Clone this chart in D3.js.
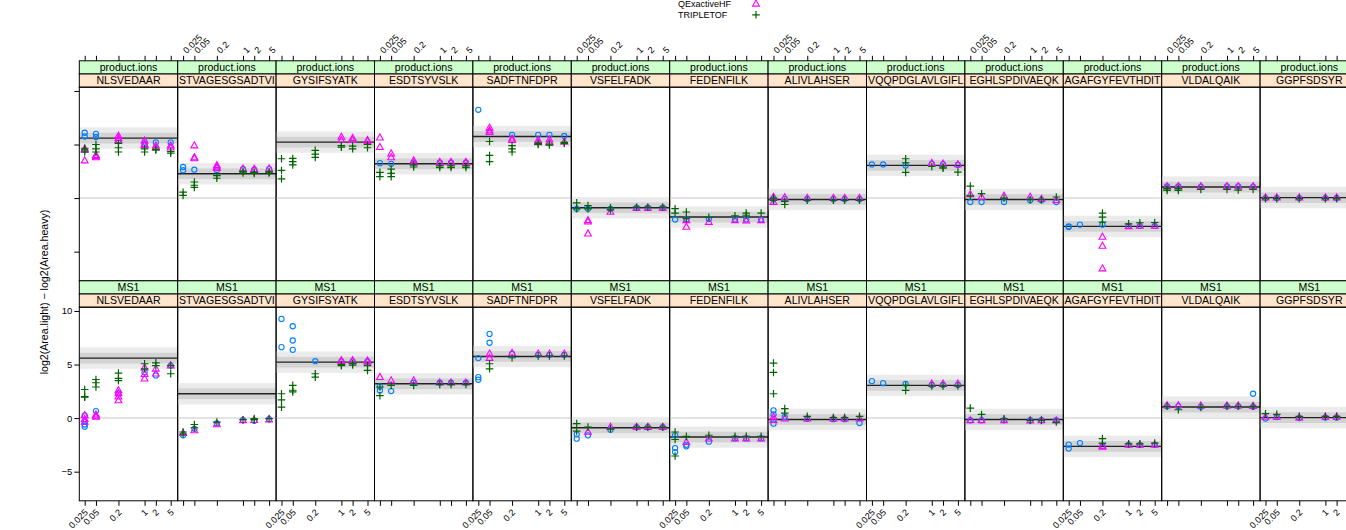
<!DOCTYPE html>
<html>
<head>
<meta charset="utf-8">
<script src="https://cdn.jsdelivr.net/npm/d3@7"></script>
<style>
body { margin: 0; background: #fff; overflow: hidden; }
text { font-family: "Liberation Sans", Arial, sans-serif; fill: #000; }
</style>
</head>
<body>
<script>
var conc = [0.025, 0.05, 0.2, 1, 2, 5];
var tickLabels = ["0.025", "0.05", "0.2", "1", "2", "5"];
var yTicks = [-5, 0, 5, 10];
var methods = ["product.ions", "MS1"];
var instruments = ["QExactive", "QExactiveHF", "TRIPLETOF"];
var peptides = ["NLSVEDAAR", "STVAGESGSADTVI", "GYSIFSYATK", "ESDTSYVSLK", "SADFTNFDPR",
  "VSFELFADK", "FEDENFILK", "ALIVLAHSER", "VQQPDGLAVLGIFL", "EGHLSPDIVAEQK",
  "AGAFGYFEVTHDIT", "VLDALQAIK", "GGPFSDSYR"];
// consensus (median) per peptide
var consensus = [5.6, 2.27, 5.22, 3.2, 5.75, -0.9, -1.77, -0.13, 3.05, -0.13, -2.64, 1.03, 0.04];

// product.ions, one entry per peptide, each 6 concentrations of replicate values
var pionQE = [
  [[6.1,5.75],[6.0,5.7],[5.4],[5.2,5.0],[5.2],[5.2]],
  [[2.9,2.6],[2.65],[2.6],[2.7],[2.65],[2.7]],
  [[],[],[],[],[],[]],
  [[3.26],[3.2],[3.3],[3.3],[3.3],[3.3]],
  [[8.24],[],[5.9],[5.9],[5.9],[5.8]],
  [[-1.0],[-1.0],[-1.0],[-0.9],[-0.9],[-0.9]],
  [[-2.0],[-2.0],[-1.95],[-2.0],[-2.0],[-2.0]],
  [[-0.1],[-0.1],[-0.1],[-0.1],[-0.1],[-0.1]],
  [[3.14],[3.14],[3.05],[3.2],[3.15],[3.1]],
  [[-0.37],[-0.37],[-0.37],[-0.2],[-0.2],[-0.37]],
  [[-2.64,-2.7],[-2.48],[-2.48],[-2.6],[-2.6],[-2.6]],
  [[1.1],[1.1],[1.05],[1.1],[1.1],[1.05]],
  [[0.0],[0.0],[0.0],[0.0],[0.0],[0.0]]
];
var pionHF = [
  [[4.6,3.5,4.5],[4.0,3.8,3.9],[5.8,5.4,5.6],[5.35,5.0,4.95],[4.9,4.7],[4.9,4.7]],
  [[],[4.9,3.8,3.7],[3.05,2.8,2.9],[2.75],[2.7,2.65],[2.75]],
  [[],[],[],[5.7,5.4],[5.6,5.4],[5.4,5.3]],
  [[5.63,4.75],[4.15,3.8],[3.5,3.3],[3.35,3.3],[3.35,3.3],[3.35,3.3]],
  [[],[6.56,6.15,6.3],[5.55,5.4],[5.4,5.2],[5.45,5.2],[5.25]],
  [[],[-2.08,-3.32,-2.2],[-1.3],[-0.95],[-0.95],[-0.95]],
  [[],[-2.08,-2.7],[-2.24],[-2.08],[-2.1],[-2.08]],
  [[0.1,-0.37],[0.05],[0.0],[0.0],[0.0],[0.0]],
  [[],[],[],[3.26],[3.2],[3.14]],
  [[0.35],[0.1],[0.2],[0.1],[-0.1],[-0.2]],
  [[],[],[-3.63,-4.47,-6.58],[-2.64],[-2.6],[-2.6]],
  [[1.09],[1.09],[1.09],[1.09],[1.09],[1.09]],
  [[0.04],[0.04],[0.04],[0.04],[0.04],[0.04]]
];
var pionTT = [
  [[4.65,4.3,4.5],[5.0,4.6,4.3],[5.1,4.7,4.3],[4.6,4.3],[4.55,4.5],[4.35,4.2]],
  [[0.55,0.25],[1.5,1.0,1.2],[2.1,1.85],[2.5,2.35],[2.4,2.3],[2.45,2.35]],
  [[3.67,2.58,1.8],[3.7,3.4,3.1],[4.45,4.1,3.8],[4.9,4.75],[4.85,4.6],[5.0,4.7]],
  [[2.4,2.0],[2.7,2.0,2.3],[3.1,2.9],[3.0,2.85],[3.0,2.85],[3.0,2.85]],
  [[],[5.28,3.98,3.4],[4.9,4.6,4.3],[5.1,5.0],[5.05,4.95],[5.2,5.1]],
  [[-0.45,-1.0],[-0.7,-1.0],[-0.9,-1.1],[-0.85],[-0.85],[-0.85]],
  [[-0.99,-1.4],[-1.3,-1.9],[-1.8],[-1.65],[-1.4,-1.6],[-1.4]],
  [[0.0,-0.2],[-0.3,-0.6],[-0.2],[-0.2],[-0.2],[-0.2]],
  [[],[],[3.67,3.3,2.4],[2.95],[2.8,2.9],[2.42]],
  [[1.12,0.2],[0.41],[0.0],[-0.15],[-0.15],[0.1]],
  [[],[],[-1.4,-1.77,-2.24],[-2.4],[-2.3],[-2.28]],
  [[0.88,0.72],[0.88,0.72],[0.8],[0.8],[0.75],[0.8]],
  [[-0.05],[-0.05],[-0.05],[-0.05],[-0.05],[-0.05]]
];

// MS1
var ms1QE = [
  [[0.25,-0.3,-0.6,-0.8],[0.65],[2.3],[4.29],[3.98],[4.9]],
  [[-1.61],[-1.0],[-0.5],[-0.2],[-0.25],[-0.1]],
  [[9.26,6.62],[8.57,7.24,6.37],[5.31],[5.3],[5.3],[5.3]],
  [[2.95,2.58],[2.52],[3.3],[3.3],[3.3],[3.3]],
  [[5.6,3.82,3.58],[7.86,7.03],[6.0],[5.9],[5.9],[5.9]],
  [[-1.52,-1.92],[-1.61],[-1.1],[-0.85],[-0.85],[-0.85]],
  [[-1.61,-2.8,-3.17],[-2.64,-2.5],[-2.2],[-1.9],[-1.9],[-1.9]],
  [[0.72,0.35,-0.52],[0.1],[-0.06],[-0.1],[-0.1],[-0.46]],
  [[3.45],[3.26],[3.2],[3.1],[3.1],[3.1]],
  [[-0.2],[-0.2],[-0.2],[-0.2],[-0.2],[-0.2]],
  [[-2.48,-2.85],[-2.33],[-2.6],[-2.5],[-2.5],[-2.5]],
  [[1.1],[1.1],[1.05],[1.1],[1.1],[2.27,1.05]],
  [[-0.05],[0.1],[0.0],[0.05],[0.05],[0.05]]
];
var ms1HF = [
  [[0.25,-0.1,-0.35],[0.32,0.1,0.2],[2.58,2.3,2.0,1.65],[4.7,4.1,3.67],[4.6,4.14],[4.9]],
  [[-1.4],[-1.15],[-0.59],[-0.21],[-0.2],[-0.15]],
  [[],[],[],[5.38,5.3],[5.38,5.3],[5.35,5.25]],
  [[3.82],[3.5],[3.5],[3.3],[3.3],[3.3]],
  [[],[6.0,5.6],[6.06],[6.0],[6.0],[6.0]],
  [[],[-1.3],[-0.84],[-0.84],[-0.84],[-0.84]],
  [[],[-2.24],[-1.92],[-1.92],[-1.92],[-1.92]],
  [[0.1,-0.2],[-0.06],[-0.06],[-0.06],[-0.06],[-0.06]],
  [[],[],[],[3.2],[3.2],[3.2]],
  [[-0.21],[-0.21],[-0.21],[-0.25],[-0.21],[-0.25]],
  [[],[],[-2.6,-2.7],[-2.5],[-2.5],[-2.5]],
  [[1.18],[1.18],[1.15],[1.15],[1.15],[1.12]],
  [[0.1],[0.1],[0.05],[0.1],[0.1],[0.1]]
];
var ms1TT = [
  [[2.67,1.96,2.0],[3.6,3.3,2.9],[4.2,3.7,3.5],[5.07,4.6],[5.16,4.9],[4.9,4.14]],
  [[-1.3,-1.5],[-0.6,-0.9],[-0.37],[-0.15],[-0.05,-0.15],[-0.05]],
  [[2.27,1.7,1.02],[3.05,2.6,2.45],[4.14,3.82],[4.9,5.0],[4.95,5.1],[4.9,4.45]],
  [[2.9,2.1],[3.05],[3.05],[3.15],[3.15],[3.15]],
  [[],[5.07,4.6],[5.63],[5.8],[5.8],[5.8]],
  [[-0.52,-1.21],[-0.84],[-1.0],[-0.84],[-0.84],[-0.84]],
  [[-1.3,-2.0,-3.54],[-1.71],[-1.6],[-1.71],[-1.71],[-1.71]],
  [[5.13,4.26,2.27],[0.88,0.47],[0.16],[0.05],[0.05],[0.16]],
  [[],[],[3.05,2.58],[3.0],[3.0],[3.0]],
  [[0.93],[0.34],[-0.06],[-0.21],[-0.21],[-0.37]],
  [[],[],[-1.92,-2.33],[-2.4],[-2.4],[-2.33]],
  [[1.1],[0.78],[1.0],[1.1],[1.1],[1.1]],
  [[0.41],[0.35],[0.16],[0.16],[0.16],[0.16]]
];

var series = [[pionQE, pionHF, pionTT], [ms1QE, ms1HF, ms1TT]];
var colors = ["#0080ff", "#ff00ff", "#006400"];

var width = 1346, height = 530;
var plotLeft = 79.3, colW = 98.4, plotTop = 60.8, stripH = 13.2, panelH = 193.6;
var rowH = 2 * stripH + panelH;

var svg = d3.select("body").append("svg")
    .attr("width", width)
    .attr("height", height);

svg.append("defs").append("clipPath").attr("id", "pclip")
  .append("rect").attr("width", colW).attr("height", panelH);

var x = d3.scaleLog()
    .domain([Math.pow(10, -1.7465), Math.pow(10, 0.886)])
    .range([0, colW]);
var y = d3.scaleLinear()
    .domain([-7.72, 10.35])
    .range([panelH, 0]);

// draws one symbol of group k
function symbol(g, k, px, py) {
  if (k == 0) {
    g.append("circle").attr("cx", px).attr("cy", py).attr("r", 2.6)
      .attr("fill", "none").attr("stroke", colors[0]).attr("stroke-width", 1.1);
  } else if (k == 1) {
    g.append("path").attr("transform", "translate(" + px + "," + py + ")")
      .attr("d", "M0,-3.8L3.4,2.3L-3.4,2.3Z")
      .attr("fill", "none").attr("stroke", colors[1]).attr("stroke-width", 1.1);
  } else {
    g.append("path").attr("transform", "translate(" + px + "," + py + ")")
      .attr("d", "M-3.8,0H3.8M0,-3.8V3.8")
      .attr("fill", "none").attr("stroke", colors[2]).attr("stroke-width", 1.2);
  }
}

methods.forEach(function(m, r) {
  peptides.forEach(function(p, c) {
    var g = svg.append("g")
        .attr("transform", "translate(" + (plotLeft + c * colW) + "," + (plotTop + r * rowH) + ")");

    // strips
    var clipId = "clip" + r + "_" + c;
    g.append("clipPath").attr("id", clipId)
      .append("rect").attr("width", colW).attr("height", 2 * stripH + panelH);

    g.append("rect").attr("width", colW).attr("height", stripH)
      .attr("fill", "#ccffcc").attr("stroke", "#000").attr("stroke-width", 1);
    g.append("rect").attr("y", stripH).attr("width", colW).attr("height", stripH)
      .attr("fill", "#ffe5cc").attr("stroke", "#000").attr("stroke-width", 1);
    g.append("text").attr("x", colW / 2).attr("y", stripH / 2).attr("dy", "0.36em")
      .attr("text-anchor", "middle").style("font-size", "10.6px").text(m);
    g.append("text").attr("x", colW / 2).attr("y", stripH * 1.5).attr("dy", "0.36em")
      .attr("clip-path", "url(#" + clipId + ")")
      .attr("text-anchor", "middle").style("font-size", "10.6px").text(p);

    var panel = g.append("g").attr("transform", "translate(0," + (2 * stripH) + ")");
    var inner = panel.append("g").attr("clip-path", "url(#pclip)");

    // reference line at zero
    inner.append("line").attr("x1", 0).attr("x2", colW)
      .attr("y1", y(0)).attr("y2", y(0))
      .attr("stroke", "#e2e2e2").attr("stroke-width", 2);

    var cv = consensus[c];
    inner.append("rect").attr("x", 0).attr("width", colW)
      .attr("y", y(cv + 1)).attr("height", y(cv - 1) - y(cv + 1))
      .attr("fill", "#ebebeb");
    inner.append("rect").attr("x", 0).attr("width", colW)
      .attr("y", y(cv + 0.5)).attr("height", y(cv - 0.5) - y(cv + 0.5))
      .attr("fill", "#d3d3d3");
    inner.append("line").attr("x1", 0).attr("x2", colW)
      .attr("y1", y(cv)).attr("y2", y(cv))
      .attr("stroke", "#222").attr("stroke-width", 1.4);

    series[r].forEach(function(s, k) {
      s[c].forEach(function(vals, j) {
        vals.forEach(function(v) {
          symbol(inner, k, x(conc[j]), y(v));
        });
      });
    });

    panel.append("rect").attr("width", colW).attr("height", panelH)
      .attr("fill", "none").attr("stroke", "#000").attr("stroke-width", 1);

    // x axes: top of first row, bottom of last row, labels alternating
    if (r == 0) {
      var ax = g.append("g").call(d3.axisTop(x).tickValues(conc).tickSize(5)
          .tickFormat(function(d, i) { return c % 2 == 1 ? tickLabels[i] : ""; }));
      ax.select(".domain").remove();
      ax.selectAll("text").attr("x", 0).attr("y", 0).attr("dy", "0.35em")
        .attr("text-anchor", "start").attr("transform", "translate(1,-9) rotate(-45)")
        .style("font-size", "9px").attr("fill", "#000");
    } else {
      var bx = panel.append("g").attr("transform", "translate(0," + panelH + ")")
        .call(d3.axisBottom(x).tickValues(conc).tickSize(5)
          .tickFormat(function(d, i) { return c % 2 == 0 ? tickLabels[i] : ""; }));
      bx.select(".domain").remove();
      bx.selectAll("text").attr("x", 0).attr("y", 0).attr("dy", "0.35em")
        .attr("text-anchor", "end").attr("transform", "translate(1,10) rotate(-45)")
        .style("font-size", "9px").attr("fill", "#000");
    }

    if (c == 0) {
      var ay = panel.append("g").call(d3.axisLeft(y).tickValues(yTicks).tickSize(5)
          .tickFormat(function(d) { return r == 1 ? d3.format("")(d).replace("-", "\u2212") : ""; }));
      ay.select(".domain").remove();
      ay.selectAll("text").style("font-size", "9.5px").attr("fill", "#000").attr("x", -7);
    }
  });
});

// y label
svg.append("text")
    .attr("transform", "translate(48,292) rotate(-90)")
    .attr("text-anchor", "middle")
    .style("font-size", "10.6px")
    .text("log2(Area.light) \u2212 log2(Area.heavy)");

// legend (first row sits above the page edge)
var legend = svg.append("g");
instruments.forEach(function(name, k) {
  var by = -4 + k * 11;
  legend.append("text").attr("x", 678).attr("y", by)
    .style("font-size", "9px").text(name);
  symbol(legend, k, 756, by - 3.2);
});
</script>
</body>
</html>
